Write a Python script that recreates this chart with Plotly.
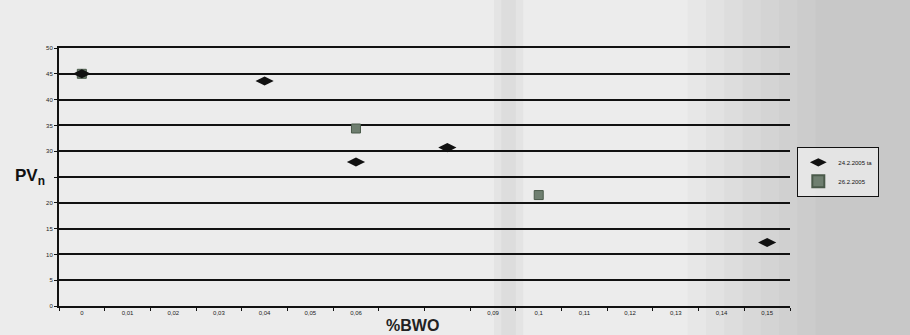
import plotly.graph_objects as go

# Category axis: %BWO levels
categories = ["0", "0,01", "0,02", "0,03", "0,04", "0,05", "0,06", "0,07",
              "0,08", "0,09", "0,1", "0,11", "0,12", "0,13", "0,14", "0,15"]
# Labels shown under the axis (two sit under the axis title and are left blank)
tick_labels = ["0", "0,01", "0,02", "0,03", "0,04", "0,05", "0,06", " ",
               " ", "0,09", "0,1", "0,11", "0,12", "0,13", "0,14", "0,15"]

series1_name = "24.2.2005 ta"
series1_x = ["0", "0,04", "0,06", "0,08", "0,15"]
series1_y = [45.0, 43.6, 27.9, 30.7, 12.3]

series2_name = "26.2.2005"
series2_x = ["0", "0,06", "0,1"]
series2_y = [45.0, 34.4, 21.5]

y_ticks = [0, 5, 10, 15, 20, 25, 30, 35, 40, 45, 50]
y_tick_labels = ["0", "5", "10", "15", "20", " ", "30", "35", "40", "45", "50"]

fig = go.Figure()

# squares drawn first so the diamonds sit on top where they coincide
fig.add_trace(go.Scatter(
    x=series2_x, y=series2_y, name=series2_name, mode="markers", legendrank=2,
    marker=dict(symbol="square", size=9, color="#6f7f70",
                line=dict(color="#4a5a4a", width=1)),
))
fig.add_trace(go.Scatter(
    x=series1_x, y=series1_y, name=series1_name, mode="markers", legendrank=1,
    marker=dict(symbol="diamond-wide", size=13, color="#111111"),
))

# Scanned-paper shading: a faint vertical band and a darker right edge
shapes = []
band = [(0.595, 0.605, 0.05), (0.605, 0.625, 0.09), (0.625, 0.635, 0.05)]
for x0, x1, a in band:
    shapes.append(dict(type="rect", xref="paper", yref="paper", x0=x0, x1=x1,
                       y0=-0.2, y1=1.2, fillcolor=f"rgba(80,80,80,{a})",
                       line_width=0, layer="below"))
edge_start = 0.86
for i in range(8):
    shapes.append(dict(type="rect", xref="paper", yref="paper",
                       x0=edge_start + i * 0.025, x1=1.3, y0=-0.2, y1=1.2,
                       fillcolor="rgba(80,80,80,0.028)", line_width=0, layer="below"))

fig.update_layout(
    width=910, height=335,
    margin=dict(l=59, r=120, t=48, b=29),
    paper_bgcolor="#ececec",
    plot_bgcolor="rgba(0,0,0,0)",
    font=dict(family="Arial, Liberation Sans, sans-serif", color="#111111"),
    shapes=shapes,
    showlegend=True,
    legend=dict(
        x=1.01, y=0.52, xanchor="left", yanchor="middle",
        bgcolor="rgba(255,255,255,0.5)", bordercolor="#111111", borderwidth=1,
        font=dict(size=6), itemsizing="constant", tracegroupgap=0,
        itemwidth=30,
    ),
    annotations=[
        dict(text="<b>PV<sub>n</sub></b>", xref="paper", yref="paper", x=-0.04, y=0.5,
             xanchor="center", yanchor="middle", showarrow=False,
             font=dict(size=17, family="Arial, Liberation Sans, sans-serif", color="#111111")),
        dict(text="<b>%BWO</b>", xref="paper", yref="paper", x=0.483, y=-0.035,
             xanchor="center", yanchor="top", showarrow=False,
             font=dict(size=16, family="Arial, Liberation Sans, sans-serif", color="#222222")),
    ],
)

fig.update_xaxes(
    type="category", categoryorder="array", categoryarray=categories,
    tickmode="array", tickvals=categories, ticktext=tick_labels,
    range=[-0.5, len(categories) - 0.5],
    showgrid=False, zeroline=False,
    showline=True, linecolor="#111111", linewidth=2, mirror=True,
    ticks="outside", ticklen=3, tickcolor="#111111", tickson="boundaries",
    tickfont=dict(size=6, color="#222222"),
)
fig.update_yaxes(
    range=[0, 50], tickmode="array", tickvals=y_ticks, ticktext=y_tick_labels,
    showgrid=True, gridcolor="#111111", gridwidth=1.5,
    zeroline=False, showline=True, linecolor="#111111", linewidth=2,
    ticks="outside", ticklen=3, tickcolor="#111111",
    tickfont=dict(size=6, color="#222222"),
)

fig.write_html("out.html")
